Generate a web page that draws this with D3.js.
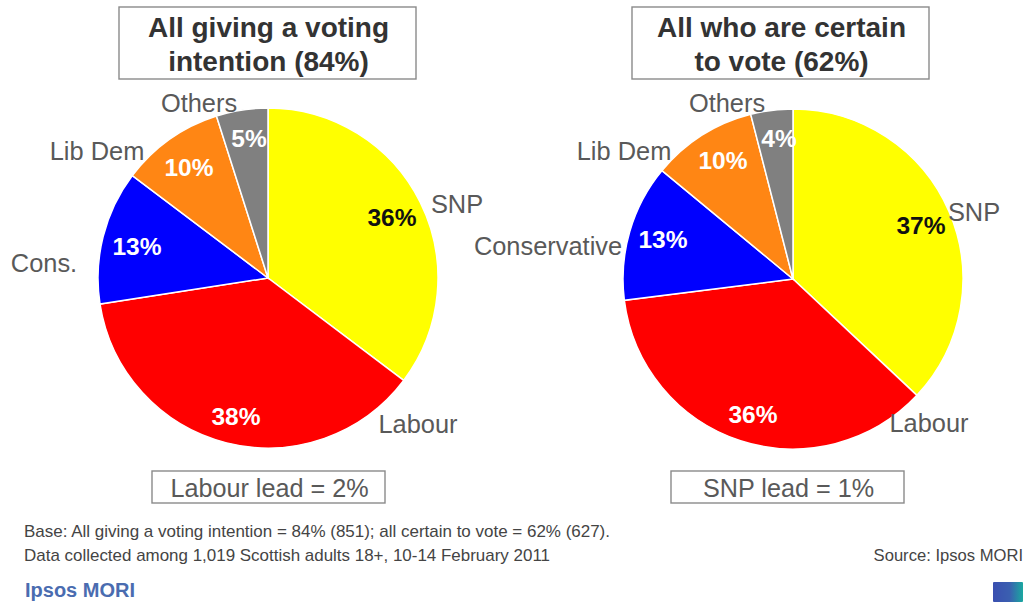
<!DOCTYPE html>
<html>
<head>
<meta charset="utf-8">
<script src="https://cdn.jsdelivr.net/npm/d3@7"></script>
<style>
html,body{margin:0;padding:0;background:#fff;overflow:hidden}
svg{display:block}
text{font-family:"Liberation Sans",Arial,sans-serif}
</style>
</head>
<body>
<svg id="chart" width="1026" height="602"></svg>
<script>
// Scottish voting intention polls, two bases
const parties = ["SNP", "Labour", "Cons.", "Lib Dem", "Others"];
const partiesCertain = ["SNP", "Labour", "Conservative", "Lib Dem", "Others"];
const partyColours = ["#ffff00", "#ff0000", "#0000ff", "#ff8614", "#808080"];
const allGiving = [36, 38, 13, 10, 5];
const allCertain = [37, 36, 13, 10, 4];

const titleGiving = ["All giving a voting", "intention (84%)"];
const titleCertain = ["All who are certain", "to vote (62%)"];
const leadGiving = "Labour lead = 2%";
const leadCertain = "SNP lead = 1%";
const footnotes = [
  "Base: All giving a voting intention = 84% (851); all certain to vote = 62% (627).",
  "Data collected among 1,019 Scottish adults 18+, 10-14 February 2011"
];

const svg = d3.select("#chart");
const root = svg.append("g");

const grad = svg.append("defs").append("linearGradient").attr("id", "badge");
grad.append("stop").attr("offset", "0%").attr("stop-color", "#3a4fb0");
grad.append("stop").attr("offset", "55%").attr("stop-color", "#3a5fb0");
grad.append("stop").attr("offset", "100%").attr("stop-color", "#1aa8a0");

const pie = d3.pie().sort(null);
const radius = 170;
const arc = d3.arc().innerRadius(0).outerRadius(radius);

function drawPie(cfg) {
  const g = root.append("g").attr("transform", `translate(${cfg.cx},${cfg.cy})`);
  const slices = pie(cfg.values);
  g.selectAll("path").data(slices).join("path")
    .attr("d", arc)
    .attr("fill", (d, i) => partyColours[i])
    .attr("stroke", "#fff")
    .attr("stroke-width", 1.5);

  // Percentage labels sit inside their slices
  g.selectAll("text.pct").data(slices).join("text")
    .attr("class", "pct")
    .attr("text-anchor", "middle")
    .attr("font-size", 24.5)
    .attr("font-weight", "bold")
    .attr("fill", (d, i) => i === 0 ? "#111" : "#fff")
    .attr("x", (d, i) => cfg.pctPos[i][0])
    .attr("y", (d, i) => cfg.pctPos[i][1])
    .text(d => d.data + "%");

  g.selectAll("text.name").data(cfg.names).join("text")
    .attr("class", "name")
    .attr("font-size", 25.4)
    .attr("fill", "#595959")
    .attr("text-anchor", "middle")
    .attr("x", (d, i) => cfg.namePos[i][0])
    .attr("y", (d, i) => cfg.namePos[i][1])
    .text(d => d);
}

function drawBox(x, y, w, h, lines, size, weight, lineGap) {
  root.append("rect").attr("x", x).attr("y", y).attr("width", w).attr("height", h)
    .attr("fill", "#fff").attr("stroke", "#8a8a8a").attr("stroke-width", 1.4);
  lines.forEach((t, i) => {
    root.append("text")
      .attr("x", x + w / 2 + 1)
      .attr("y", y + lineGap[0] + i * lineGap[1])
      .attr("text-anchor", "middle")
      .attr("font-size", size)
      .attr("font-weight", weight)
      .attr("fill", weight === "bold" ? "#333" : "#595959")
      .text(t);
  });
}

drawPie({
  cx: 268, cy: 278, values: allGiving, names: parties,
  pctPos: [[124, -52], [-32, 147], [-131, -23], [-79, -102], [-19, -131]],
  namePos: [[189, -65], [150, 155], [-224, -6], [-171, -118], [-69, -166]]
});
drawPie({
  cx: 793, cy: 279, values: allCertain, names: partiesCertain,
  pctPos: [[128, -45], [-40, 144], [-130, -31], [-70, -110], [-14, -132]],
  namePos: [[181, -58], [136, 153], [-245, -24], [-169, -119], [-66, -167]]
});

drawBox(119, 7, 297, 72, titleGiving, 28, "bold", [30, 34]);
drawBox(632, 7, 297, 72, titleCertain, 28, "bold", [30, 34]);
drawBox(152, 471, 233, 32, [leadGiving], 25.2, "normal", [26, 0]);
drawBox(671, 471, 233, 32, [leadCertain], 25.2, "normal", [26, 0]);

footnotes.forEach((t, i) => {
  root.append("text").attr("x", 24).attr("y", 537 + i * 24)
    .attr("font-size", 17).attr("fill", "#444")
    .attr("textLength", i === 0 ? 586 : 526).attr("lengthAdjust", "spacingAndGlyphs").text(t);
});
root.append("text").attr("x", 1023).attr("y", 561).attr("text-anchor", "end")
  .attr("font-size", 16.6).attr("fill", "#444").text("Source: Ipsos MORI");
root.append("text").attr("x", 25).attr("y", 597)
  .attr("font-size", 20).attr("font-weight", "bold").attr("fill", "#4a6cb0").text("Ipsos MORI");

// Small badge in the bottom corner
root.append("rect").attr("x", 993).attr("y", 582).attr("width", 30).attr("height", 20)
  .attr("rx", 1).attr("fill", "url(#badge)");
</script>
</body>
</html>
